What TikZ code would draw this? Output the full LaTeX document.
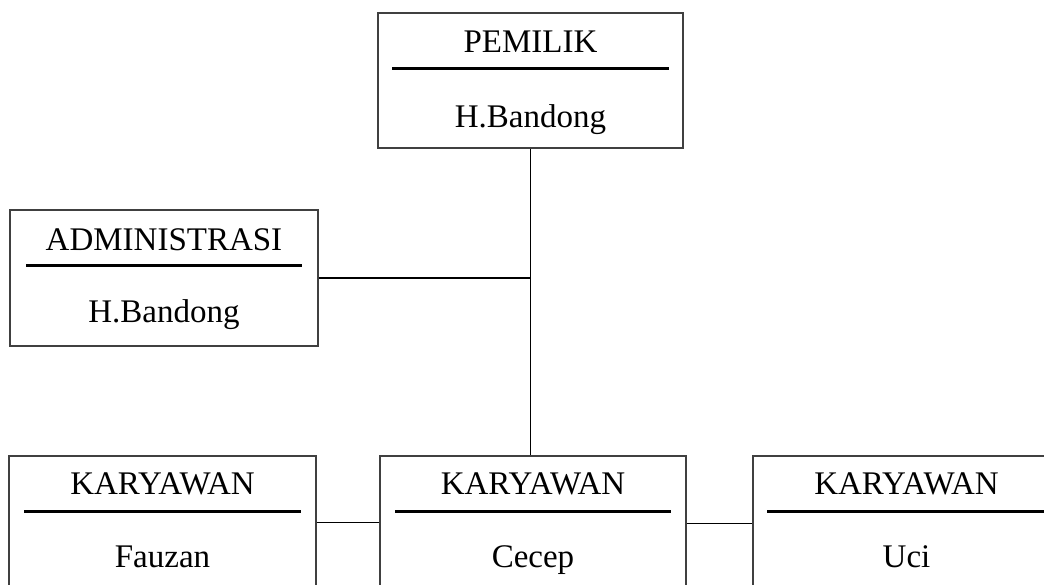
\documentclass[tikz,border=0pt]{standalone}
\usepackage{fontspec}
\setmainfont{Liberation Serif}
\usetikzlibrary{calc}
\tikzset{
  box/.style={draw=black!75, line width=1.2pt, rectangle, inner sep=0pt, fill=none},
  pembox/.style={box, minimum width=305pt, minimum height=135pt},
  orgbox/.style={box, minimum width=307pt, minimum height=136pt},
  txt/.style={anchor=base, inner sep=0pt, font=\fontsize{33}{38}\selectfont},
  uline/.style={line width=3pt, black},
  conn/.style={line width=1.8pt, black}
}
\begin{document}
\begin{tikzpicture}[x=1pt, y=-1pt]
\useasboundingbox (0,0) rectangle (1044,585);
\clip (0,0) rectangle (1044,585);
\fill[white] (0,0) rectangle (1044,585);
% boxes
\node[pembox] (pem) at (530.5,80.5) {};
\node[orgbox, minimum width=308pt] (adm) at (164,278) {};
\node[orgbox] (k1) at (162.5,524) {};
\node[orgbox, minimum width=306pt] (k2) at (533,524) {};
\node[orgbox] (k3) at (906.5,524) {};
% texts
\node[txt] (pemT) at ($(pem.north)+(0,40)$) {PEMILIK};
\node[txt] (pemN) at ($(pem.north)+(0,115)$) {H.Bandong};
\node[txt] (admT) at ($(adm.north)+(0,41)$) {ADMINISTRASI};
\node[txt] (admN) at ($(adm.north)+(0,113)$) {H.Bandong};
\node[txt] (k1T) at ($(k1.north)+(0,39)$) {KARYAWAN};
\node[txt] (k1N) at ($(k1.north)+(0,112)$) {Fauzan};
\node[txt] (k2T) at ($(k2.north)+(0,39)$) {KARYAWAN};
\node[txt] (k2N) at ($(k2.north)+(0,112)$) {Cecep};
\node[txt] (k3T) at ($(k3.north)+(0,39)$) {KARYAWAN};
\node[txt] (k3N) at ($(k3.north)+(0,112)$) {Uci};
% underlines
\draw[uline] ($(pem.north west)+(15,56)$) -- ($(pem.north east)+(-15,56)$);
\draw[uline] ($(adm.north west)+(17,56)$) -- ($(adm.north east)+(-17,56)$);
\draw[uline] ($(k1.north west)+(16,56)$) -- ($(k1.north east)+(-16,56)$);
\draw[uline] ($(k2.north west)+(16,56)$) -- ($(k2.north east)+(-16,56)$);
\draw[uline] ($(k3.north west)+(15,56)$) -- ($(k3.north east)+(-16,56)$);
% connectors
\coordinate (jx) at (pem.south);
\draw[conn] (pem.south) -- (jx |- k2.north);
\draw[conn] (adm.east) -- (adm.east -| jx);
\draw[conn] ($(k1.north east)+(0,67)$) -- ($(k2.north west)+(0,67)$);
\draw[conn] ($(k2.north east)+(0,68)$) -- ($(k3.north west)+(0,68)$);
\end{tikzpicture}
\end{document}
